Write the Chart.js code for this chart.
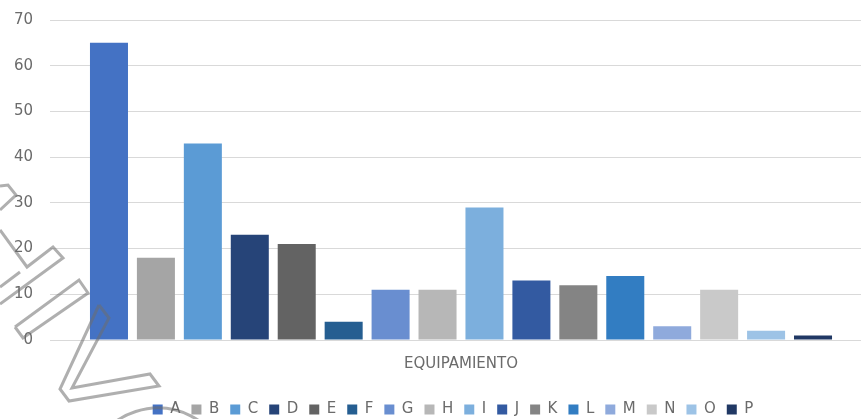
<!DOCTYPE html>
<html>
<head>
<meta charset="utf-8">
<script src="https://cdn.jsdelivr.net/npm/chart.js@4.4.0/dist/chart.umd.min.js"></script>
<style>
  html, body { margin: 0; padding: 0; background: #fff; overflow: hidden; }
  #wrap { width: 872px; height: 419px; }
</style>
</head>
<body>
<div id="wrap"><canvas id="myChart"></canvas></div>
<script>
// single category, one series per letter
const categories = ['EQUIPAMIENTO'];
const seriesNames = ['A', 'B', 'C', 'D', 'E', 'F', 'G', 'H', 'I', 'J', 'K', 'L', 'M', 'N', 'O', 'P'];
const seriesValues = [65, 18, 43, 23, 21, 4, 11, 11, 29, 13, 12, 14, 3, 11, 2, 1];
const seriesColors = ['#4472C4', '#A5A5A5', '#5B9BD5', '#264478', '#636363', '#255E91', '#698ED0', '#B7B7B7',
                      '#7CAFDD', '#335AA1', '#848484', '#327DC2', '#8FAADC', '#C9C9C9', '#9DC3E6', '#203864'];
const yTicks = [0, 10, 20, 30, 40, 50, 60, 70];

const textColor = '#6b6b6b';
const fontFamily = '"DejaVu Sans", sans-serif';

// the grey outline stamp in the lower left corner
const stampPlugin = {
  id: 'stamp',
  afterLayout(chart) {
    // legend sits a bit left of the plot centre
    chart.legend.left -= 8;
    chart.legend.right -= 8;
  },
  afterDraw(chart) {
    const ctx = chart.ctx;
    const shapes = [
      [[0, 186], [8, 185], [16, 195], [0, 210]],
      [[0, 230], [27, 267], [53, 247], [63, 258], [0, 304]],
      [[20, 272], [0, 287]],
      [[15, 327], [79, 280], [88, 293], [23, 338], [15, 327]],
      [[99, 305], [109, 318], [72, 388], [150, 374], [159, 386], [69, 401], [60, 389], [99, 305]]
    ];
    ctx.save();
    ctx.strokeStyle = 'rgba(110,110,110,0.55)';
    ctx.lineWidth = 3;
    ctx.lineJoin = 'miter';
    shapes.forEach(pts => {
      ctx.beginPath();
      pts.forEach((p, i) => i ? ctx.lineTo(p[0], p[1]) : ctx.moveTo(p[0], p[1]));
      ctx.stroke();
    });
    ctx.beginPath();
    ctx.arc(158, 480, 72, Math.PI * 1.15, Math.PI * 1.85);
    ctx.stroke();
    ctx.restore();
  }
};

const ctx = document.getElementById('myChart').getContext('2d');
const myChart = new Chart(ctx, {
  type: 'bar',
  data: {
    labels: categories,
    datasets: seriesNames.map((name, i) => ({
      label: name,
      data: [seriesValues[i]],
      backgroundColor: seriesColors[i],
      borderWidth: 0,
      categoryPercentage: 0.9136,
      barPercentage: 0.81
    }))
  },
  options: {
    responsive: true,
    maintainAspectRatio: false,
    animation: false,
    layout: { padding: { top: 20, right: 0, left: 0, bottom: -8 } },
    plugins: {
      tooltip: { enabled: false },
      legend: {
        position: 'bottom',
        fullSize: false,
        labels: {
          boxWidth: 10,
          boxHeight: 10,
          padding: 11,
          color: textColor,
          font: { family: fontFamily, size: 15 }
        }
      }
    },
    scales: {
      x: {
        grid: { display: false },
        border: { color: '#d9d9d9', width: 1 },
        afterFit: axis => { axis.height += 11; },
        ticks: { color: textColor, padding: 7, font: { family: fontFamily, size: 15 } }
      },
      y: {
        min: 0,
        max: 70,
        afterBuildTicks: axis => { axis.ticks = yTicks.map(v => ({ value: v })); },
        afterFit: axis => {
          axis.width = 50;
          axis.paddingTop = 9;
          axis.paddingBottom = 9;
        },
        grid: { color: '#d9d9d9', lineWidth: 1, drawTicks: false },
        border: { display: false },
        ticks: { color: textColor, padding: 17, font: { family: fontFamily, size: 15 } }
      }
    }
  },
  plugins: [stampPlugin]
});
</script>
</body>
</html>
